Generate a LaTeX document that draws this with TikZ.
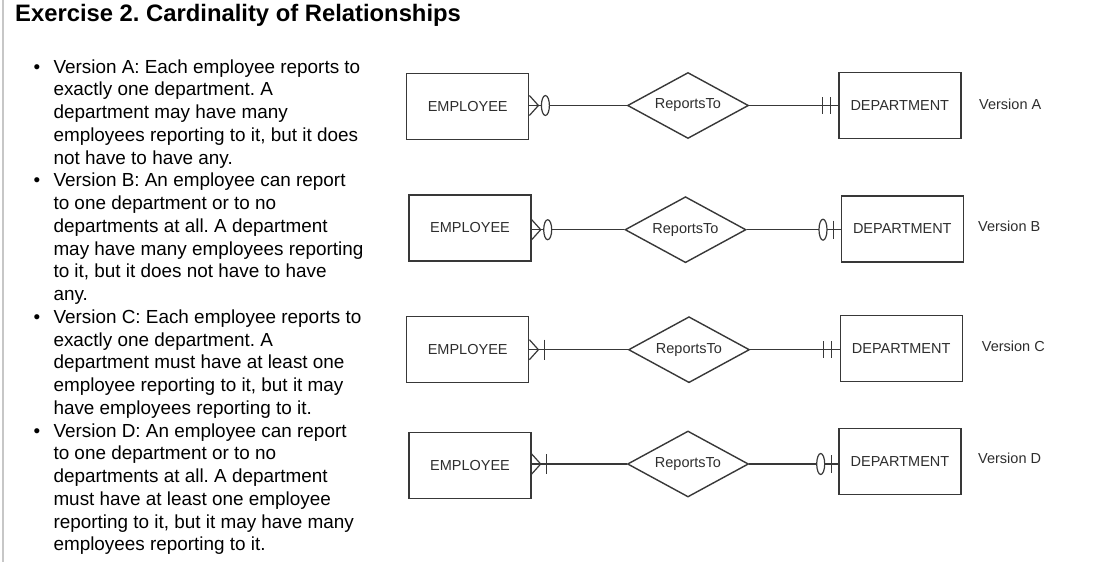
\documentclass[tikz,border=0pt]{standalone}
\usepackage{fontspec}
\setmainfont{Liberation Sans}
\usetikzlibrary{shapes.geometric,calc}
\definecolor{edge}{HTML}{383838}
\definecolor{lbl}{HTML}{2E2E2E}
\frenchspacing
\begin{document}
\begin{tikzpicture}[x=1pt,y=-1pt,
  ent/.style={draw=edge,line width=1.4pt,minimum width=122pt,minimum height=66pt,inner sep=0pt,font=\fontsize{14.5}{16}\selectfont,text=lbl},
  rel/.style={diamond,draw=edge,line width=1.4pt,minimum width=121pt,minimum height=66pt,inner sep=0pt,aspect=1.83,font=\fontsize{14.5}{16}\selectfont,text=lbl},
  conn/.style={draw=edge,line width=1.4pt},
  mark0/.style={draw=edge,line width=1.2pt,fill=white},
  ver/.style={anchor=west,inner sep=0pt,font=\fontsize{14.5}{16}\selectfont,text=lbl},
  body/.style={anchor=base west,inner sep=0pt,font=\fontsize{18.9}{22.75}\selectfont},
]
\useasboundingbox (0,0) rectangle (1096,562);
\fill[white] (0,0) rectangle (1096,562);
\draw[black!22,line width=2pt] (2.5,0) -- (2.5,562);

% title
\node[anchor=base west,inner sep=0pt,font=\fontsize{23.8}{28}\selectfont\bfseries] (title) at (15,21.5) {Exercise 2. Cardinality of Relationships};

% body text
\foreach \t [count=\i] in {
 {Version A: Each employee reports to},
 {exactly one department. A},
 {department may have many},
 {employees reporting to it, but it does},
 {not have to have any.},
 {Version B: An employee can report},
 {to one department or to no},
 {departments at all. A department},
 {may have many employees reporting},
 {to it, but it does not have to have},
 {any.},
 {Version C: Each employee reports to},
 {exactly one department. A},
 {department must have at least one},
 {employee reporting to it, but it may},
 {have employees reporting to it.},
 {Version D: An employee can report},
 {to one department or to no},
 {departments at all. A department},
 {must have at least one employee},
 {reporting to it, but it may have many},
 {employees reporting to it.}}
{
  \node[body] (t\i) at (53.3,{73+22.75*(\i-1)}) {\t};
}
\foreach \k/\y in {1/73,2/186.75,3/323.25,4/437}
  \node[body,anchor=base] (bul\k) at (37,\y) {\textbullet};

% entities and relationships
\node[ent] (empA) at (467.7,106.3) {EMPLOYEE};
\node[ent] (empB) at (470,228) {EMPLOYEE};
\node[ent] (empC) at (467.7,349.7) {EMPLOYEE};
\node[ent] (empD) at (470,465.5) {EMPLOYEE};

\node[rel] (relA) at (688,105.5) {ReportsTo};
\node[rel] (relB) at (685.5,229.7) {ReportsTo};
\node[rel] (relC) at (689,349.7) {ReportsTo};
\node[rel] (relD) at (688,464) {ReportsTo};

\node[ent] (depA) at (899.8,105.3) {DEPARTMENT};
\node[ent] (depB) at (902.3,228.8) {DEPARTMENT};
\node[ent] (depC) at (901.2,348.3) {DEPARTMENT};
\node[ent] (depD) at (900,461.3) {DEPARTMENT};

\node[ver] (vA) at (979,104) {Version A};
\node[ver] (vB) at (978,226.7) {Version B};
\node[ver] (vC) at (981.7,346) {Version C};
\node[ver] (vD) at (978,458) {Version D};

% connector end points
\foreach \r in {A,B,C,D}{
  \coordinate (e\r) at (emp\r.east |- rel\r.west);
  \coordinate (d\r) at (dep\r.west |- rel\r.east);
  \draw[conn] (e\r) -- (rel\r.west);
  \draw[conn] (rel\r.east) -- (d\r);
  % crow's foot at employee end
  \draw[conn,line width=1.2pt] ($(e\r)+(0,-10)$) -- ($(e\r)+(9,0)$) -- ($(e\r)+(0,10)$);
}
% zero or many (A, B)
\foreach \r in {A,B}
  \draw[mark0] ($(e\r)+(16,0)$) ellipse [x radius=4,y radius=10];
% one or many (C, D)
\foreach \r in {C,D}
  \draw[conn,line width=1.2pt] ($(e\r)+(15,-10)$) -- ($(e\r)+(15,10)$);
% exactly one (A, C)
\foreach \r in {A,C}{
  \draw[conn,line width=1.2pt] ($(d\r)+(-16,-8.5)$) -- ($(d\r)+(-16,8.5)$);
  \draw[conn,line width=1.2pt] ($(d\r)+(-8,-8.5)$) -- ($(d\r)+(-8,8.5)$);
}
% zero or one (B, D)
\foreach \r in {B,D}{
  \draw[mark0] ($(d\r)+(-17.6,0)$) ellipse [x radius=4,y radius=10.5];
  \draw[conn,line width=1.2pt] ($(d\r)+(-7,-9)$) -- ($(d\r)+(-7,9)$);
}
\end{tikzpicture}
\end{document}
